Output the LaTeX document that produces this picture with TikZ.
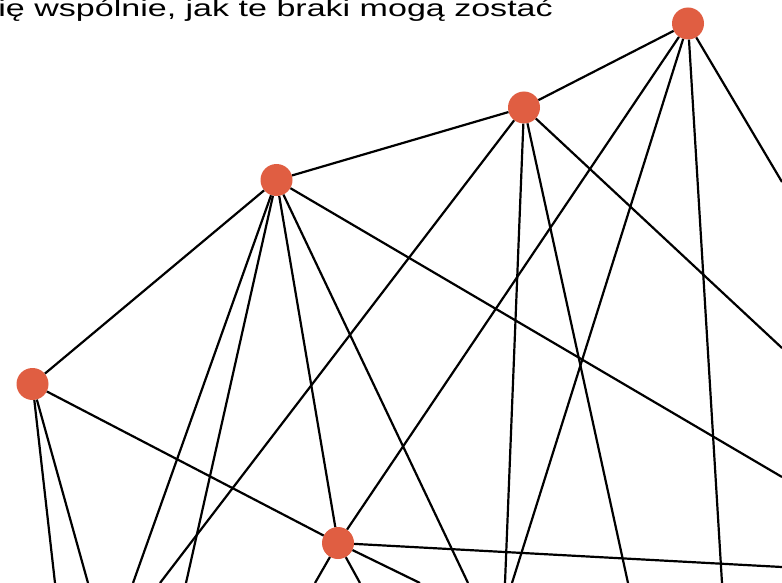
\documentclass[tikz,border=0pt]{standalone}
\usepackage{fontspec}
\newfontfamily\txtfont{Liberation Sans}
\definecolor{dotred}{HTML}{E05E42}
\begin{document}
\begin{tikzpicture}[x=1pt,y=-1pt,
  dot/.style={circle,fill=dotred,draw=none,minimum size=32pt,inner sep=0pt},
  edge/.style={line width=2.2pt,black}]
\useasboundingbox (0,0) rectangle (782,583);
\clip (0,0) rectangle (782,583);
\node[anchor=base east,inner sep=0pt] (txt) at (553,17)
  {\scalebox{1.48}[1.03]{\txtfont\fontsize{23}{23}\selectfont się wspólnie, jak te braki mogą zostać}};
\node[dot] (A) at (688,23.5) {};
\node[dot] (B) at (524,107.5) {};
\node[dot] (C) at (276.5,180) {};
\node[dot] (D) at (32.5,384) {};
\node[dot] (E) at (338,543) {};
% free ends
\coordinate (a1) at (512,583);
\coordinate (a2) at (722,583);
\coordinate (a3) at (782,182);
\coordinate (b1) at (160,583);
\coordinate (b2) at (505,583);
\coordinate (b3) at (628,583);
\coordinate (b4) at (782,348);
\coordinate (c1) at (133,583);
\coordinate (c2) at (186,583);
\coordinate (c3) at (468,583);
\coordinate (c4) at (782,477);
\coordinate (d1) at (55,583);
\coordinate (d2) at (88,583);
\coordinate (e1) at (782,567);
\coordinate (e2) at (315,583);
\coordinate (e3) at (360,583);
\coordinate (e4) at (420,583);
% connectors
\draw[edge] (A) -- (B);
\draw[edge] (A) -- (E);
\draw[edge] (A) -- (a1);
\draw[edge] (A) -- (a2);
\draw[edge] (A) -- (a3);
\draw[edge] (B) -- (C);
\draw[edge] (B) -- (b1);
\draw[edge] (B) -- (b2);
\draw[edge] (B) -- (b3);
\draw[edge] (B) -- (b4);
\draw[edge] (C) -- (D);
\draw[edge] (C) -- (E);
\draw[edge] (C) -- (c1);
\draw[edge] (C) -- (c2);
\draw[edge] (C) -- (c3);
\draw[edge] (C) -- (c4);
\draw[edge] (D) -- (E);
\draw[edge] (D) -- (d1);
\draw[edge] (D) -- (d2);
\draw[edge] (E) -- (e1);
\draw[edge] (E) -- (e2);
\draw[edge] (E) -- (e3);
\draw[edge] (E) -- (e4);
\end{tikzpicture}
\end{document}
